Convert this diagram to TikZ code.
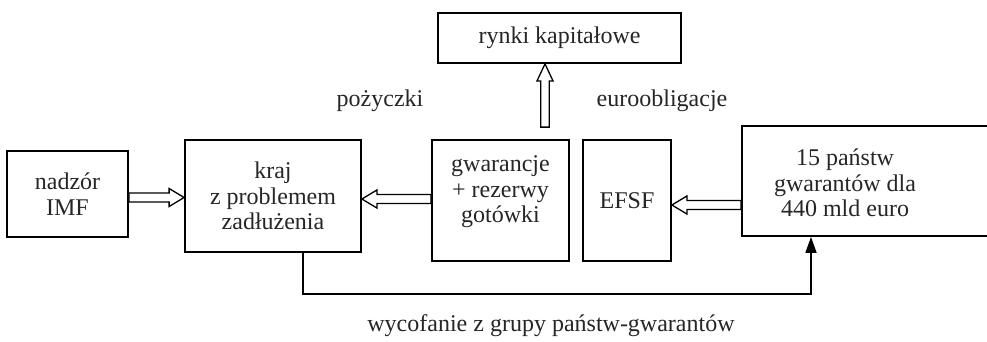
\documentclass[tikz,border=0pt]{standalone}
\usepackage{fontspec}
\setmainfont{Liberation Serif}
\usetikzlibrary{calc,arrows.meta}
\newcommand\fatH[2]{\draw[fat] let \p1=#1,\p2=#2,\n1={sign(\x2-\x1)} in
  (\x1,\y1+4.5pt) -- (\x2-\n1*15pt,\y1+4.5pt) -- (\x2-\n1*15pt,\y1+9pt) -- (\x2,\y1)
  -- (\x2-\n1*15pt,\y1-9pt) -- (\x2-\n1*15pt,\y1-4.5pt) -- (\x1,\y1-4.5pt) -- cycle;}
\newcommand\fatV[2]{\draw[fat] let \p1=#1,\p2=#2,\n1={sign(\y2-\y1)} in
  (\x1+4.3pt,\y1) -- (\x1+4.3pt,\y2-\n1*17pt) -- (\x1+8pt,\y2-\n1*17pt) -- (\x1,\y2)
  -- (\x1-8pt,\y2-\n1*17pt) -- (\x1-4.3pt,\y2-\n1*17pt) -- (\x1-4.3pt,\y1) -- cycle;}
\begin{document}
\begin{tikzpicture}[x=1pt,y=-1pt,
  txt/.style={font=\fontsize{24}{25.5}\selectfont, align=center, inner sep=0pt, text=black!85},
  box/.style={txt, draw=black, line width=1.8pt, rectangle},
  fat/.style={line width=1.3pt, fill=white, line join=miter},
  link/.style={line width=1.6pt, -{Triangle[length=16pt,width=11pt]}}]
\useasboundingbox[fill=white] (0,0) rectangle (987,341);
% boxes
\node[box, minimum width=121pt, minimum height=86pt] (imf) at (67.5,194) {nadzór\\IMF};
\node[box, minimum width=176pt, minimum height=112pt] (kraj) at (273,196) {kraj\\z problemem\\zadłużenia};
\node[box, minimum width=137pt, minimum height=121pt] (gw) at (500.5,200.5) {};
\node[txt] (gwt) at (500.5,192) {gwarancje\\+ rezerwy\\gotówki};
\node[box, minimum width=88pt, minimum height=121pt] (efsf) at (627,200.5) {EFSF};
\node[box, minimum width=258pt, minimum height=110pt] (p15) at (871,181) {};
\node[txt] (p15t) at (845,183) {15 państw\\gwarantów dla\\440 mld euro};
\node[box, minimum width=243pt, minimum height=50pt] (rynki) at (559.5,38) {rynki kapitałowe};
% labels
\node[txt] (lpoz) at (380,101) {pożyczki};
\node[txt] (leuro) at (662,101) {euroobligacje};
\node[txt] (lwyc) at (551,326) {wycofanie z grupy państw-gwarantów};
% arrows
\fatH{(imf.east |- 0,197.5)}{(kraj.west |- 0,197.5)}
\fatH{(gw.west |- 0,199)}{(kraj.east |- 0,199)}
\fatH{(p15.west |- 0,205)}{(efsf.east |- 0,205)}
\fatV{($(gw.north -| 545,0)+(0,-12)$)}{(rynki.south -| 545,0)}
\draw[link] (kraj.south -| 303,0) |- (811,294) -- (p15.south -| 811,0);
\end{tikzpicture}
\end{document}
